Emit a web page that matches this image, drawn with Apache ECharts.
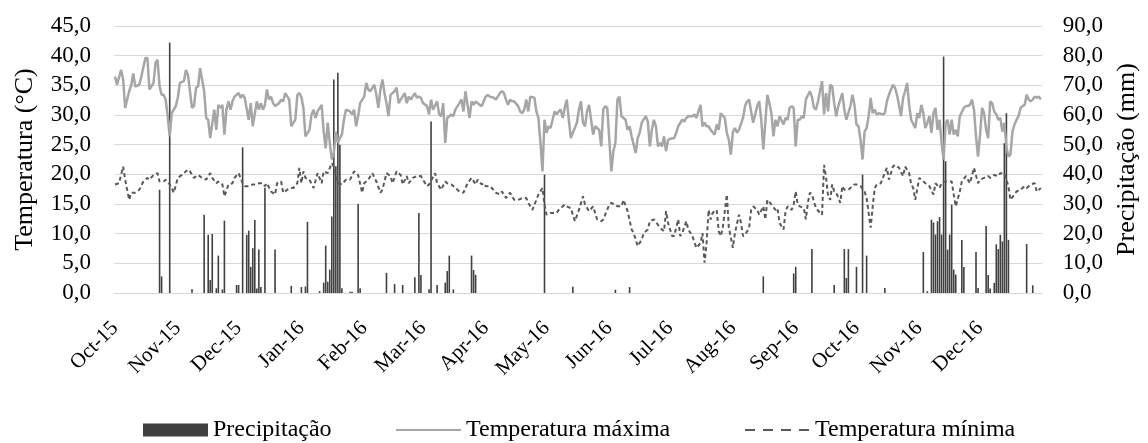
<!DOCTYPE html>
<html>
<head>
<meta charset="utf-8">
<script src="https://cdn.jsdelivr.net/npm/echarts@6/dist/echarts.min.js"></script>
<style>
  html, body { margin: 0; padding: 0; background: #fff; }
  #chart { width: 1148px; height: 443px; }
</style>
</head>
<body>
<div id="chart"></div>
<script>
// daily axis: day 0 = 2015-10-01, last day = 2016-12-31
const startDate = '2015-10-01';
const dayCount = 458;
const monthNames = ['Jan', 'Feb', 'Mar', 'Apr', 'May', 'Jun', 'Jul', 'Aug', 'Sep', 'Oct', 'Nov', 'Dec'];

// [day index, value]
const precipitacao = [
  [22, 34.8], [23, 5.6], [27, 84.4], [38, 1.3], [44, 26.4], [46, 19.6], [47, 4.4], [48, 19.9],
  [50, 1.6], [51, 12.6], [53, 1.2], [54, 24.4], [60, 2.7], [61, 2.7], [63, 49.1], [65, 19.6],
  [66, 21.0], [67, 8.8], [68, 15.1], [69, 24.6], [70, 1.5], [71, 14.7], [72, 2.0], [74, 35.5],
  [79, 14.7], [87, 2.4], [92, 2.0], [94, 2.2], [95, 24.0], [101, 0.6], [103, 3.5], [104, 16.0],
  [105, 3.8], [106, 7.9], [107, 25.8], [108, 72.0], [109, 42.7], [110, 74.2], [111, 50.0],
  [112, 1.6], [116, 0.4], [117, 0.4], [120, 30.0], [121, 1.6], [134, 6.8], [138, 3.0],
  [142, 2.7], [148, 5.3], [150, 27.0], [151, 6.1], [155, 1.3], [156, 57.8], [159, 2.7],
  [163, 3.5], [164, 7.4], [165, 12.6], [167, 1.2], [176, 12.6], [177, 7.8], [178, 6.1],
  [212, 39.9], [226, 2.1], [247, 1.1], [254, 2.0], [320, 5.6], [335, 6.6], [336, 8.8],
  [344, 14.8], [355, 2.7], [360, 14.8], [361, 5.1], [362, 14.8], [366, 8.8], [369, 39.9],
  [371, 12.6], [380, 1.7], [399, 13.8], [401, 0.6], [403, 24.7], [404, 23.8], [405, 19.7],
  [406, 24.2], [407, 25.6], [408, 19.7], [409, 79.7], [410, 44.4], [411, 14.6], [412, 19.7],
  [413, 29.8], [414, 7.9], [415, 6.2], [418, 17.9], [419, 8.8], [425, 13.8], [426, 1.7],
  [430, 22.6], [431, 6.1], [432, 1.5], [434, 3.4], [435, 16.4], [436, 14.8], [437, 19.6],
  [438, 17.4], [439, 50.5], [440, 60.6], [441, 17.9], [450, 16.5], [453, 2.6]
];

const tempMaxima = [
  [0, 36.5], [1, 35.1], [3, 37.6], [4, 36.0], [5, 31.2], [7, 34.0], [8, 35.0], [9, 37.0],
  [10, 34.8], [12, 35.1], [13, 36.5], [15, 39.6], [16, 39.6], [17, 34.3], [19, 35.4], [20, 38.8],
  [21, 39.3], [22, 34.8], [23, 33.4], [24, 33.4], [25, 32.6], [26, 29.8], [27, 26.4], [28, 30.3],
  [30, 31.5], [31, 32.9], [32, 35.4], [34, 35.7], [35, 37.6], [36, 36.8], [38, 31.2], [39, 31.5],
  [40, 34.6], [41, 34.8], [42, 37.9], [44, 34.0], [45, 29.5], [46, 29.2], [47, 26.1], [49, 30.9],
  [50, 27.5], [51, 31.7], [52, 31.2], [53, 31.7], [54, 26.7], [55, 30.9], [56, 32.3], [57, 30.9],
  [58, 32.3], [59, 33.1], [61, 33.7], [62, 32.9], [63, 33.4], [64, 32.9], [66, 29.2], [67, 32.0],
  [68, 28.1], [70, 32.3], [71, 30.9], [72, 32.0], [73, 30.9], [74, 31.7], [75, 34.3], [76, 32.6],
  [77, 33.1], [78, 32.0], [79, 31.5], [81, 32.0], [82, 32.6], [83, 32.3], [84, 33.7], [86, 32.6],
  [87, 28.1], [88, 28.7], [89, 29.2], [90, 33.4], [91, 33.7], [92, 33.0], [93, 31.2], [94, 26.4],
  [96, 27.5], [97, 30.1], [98, 30.9], [99, 29.5], [100, 30.6], [102, 31.7], [103, 27.2], [104, 24.4],
  [105, 28.7], [106, 25.3], [107, 22.5], [108, 23.6], [109, 27.2], [110, 25.3], [111, 26.1], [112, 26.7],
  [113, 29.2], [114, 30.9], [116, 30.6], [117, 30.1], [118, 30.9], [119, 28.1], [120, 29.8], [121, 32.0],
  [123, 33.1], [124, 35.4], [125, 34.3], [126, 34.0], [128, 35.1], [129, 33.4], [130, 31.2], [131, 34.3],
  [132, 36.0], [133, 33.7], [134, 32.0], [135, 29.8], [136, 33.4], [138, 34.0], [139, 34.6], [140, 32.0],
  [141, 32.6], [143, 33.7], [144, 32.0], [145, 33.1], [146, 32.6], [148, 33.7], [149, 32.9], [150, 33.1],
  [151, 32.9], [152, 32.0], [154, 31.5], [155, 30.1], [156, 32.6], [157, 30.9], [159, 32.3], [160, 30.1],
  [161, 29.8], [162, 32.0], [163, 25.3], [164, 29.5], [165, 29.8], [166, 30.1], [167, 29.8], [168, 30.9],
  [170, 32.0], [171, 32.6], [172, 30.6], [173, 34.0], [175, 29.5], [176, 32.3], [177, 31.7], [178, 32.3],
  [180, 31.7], [181, 31.5], [182, 32.3], [183, 33.1], [184, 33.4], [185, 33.1], [187, 32.9], [188, 32.6],
  [190, 33.7], [191, 34.0], [192, 33.7], [193, 32.6], [194, 31.7], [195, 32.6], [196, 32.3], [197, 32.3],
  [199, 31.5], [200, 30.6], [201, 30.3], [202, 30.9], [203, 32.6], [204, 30.6], [205, 33.1], [207, 32.9],
  [208, 30.6], [209, 29.5], [210, 25.3], [211, 20.5], [212, 29.2], [213, 27.0], [214, 28.1], [215, 27.8],
  [217, 30.6], [218, 30.1], [219, 30.6], [220, 30.9], [221, 29.5], [222, 31.2], [223, 32.6], [224, 29.2],
  [225, 26.1], [226, 27.0], [228, 28.7], [229, 30.9], [230, 32.3], [231, 28.7], [232, 28.1], [233, 30.6],
  [234, 31.7], [235, 29.2], [236, 26.7], [237, 28.1], [239, 27.5], [240, 24.7], [241, 30.9], [242, 31.5],
  [243, 31.2], [244, 25.8], [245, 20.5], [246, 23.9], [247, 25.3], [248, 32.6], [249, 33.1], [250, 29.8],
  [251, 29.5], [252, 29.2], [253, 27.5], [254, 28.1], [255, 26.4], [257, 23.6], [258, 26.1], [259, 27.0],
  [260, 28.7], [262, 29.8], [263, 28.9], [264, 24.7], [265, 27.5], [266, 29.2], [267, 28.1], [268, 24.7],
  [269, 25.3], [270, 24.7], [271, 26.4], [272, 23.9], [273, 25.8], [275, 26.1], [276, 26.1], [277, 27.0],
  [278, 28.1], [280, 29.2], [281, 28.9], [282, 29.5], [283, 29.8], [285, 29.8], [286, 30.1], [287, 29.5],
  [288, 30.6], [289, 31.7], [290, 28.1], [291, 28.7], [292, 28.1], [293, 28.1], [294, 27.5], [296, 26.7],
  [297, 28.4], [298, 27.5], [299, 30.3], [301, 29.5], [302, 27.0], [303, 25.8], [304, 23.3], [305, 27.2],
  [306, 27.8], [307, 27.0], [308, 27.5], [310, 29.5], [311, 31.5], [312, 32.3], [313, 32.6], [314, 30.6],
  [315, 28.7], [317, 31.5], [318, 32.3], [319, 29.2], [320, 24.2], [321, 28.7], [322, 33.4], [323, 32.0],
  [324, 30.3], [325, 26.4], [326, 29.2], [327, 28.1], [328, 29.8], [330, 28.4], [331, 29.5], [332, 29.2],
  [333, 31.2], [334, 31.5], [335, 31.2], [336, 24.7], [337, 29.2], [338, 29.2], [339, 29.8], [340, 29.5],
  [341, 32.6], [343, 34.0], [344, 33.1], [345, 31.2], [346, 30.9], [347, 32.3], [348, 34.0], [349, 35.7],
  [350, 30.1], [351, 33.7], [352, 30.6], [353, 35.1], [354, 34.8], [355, 32.0], [356, 29.8], [357, 31.5],
  [358, 32.6], [359, 33.7], [360, 30.9], [361, 29.2], [363, 31.5], [364, 33.4], [365, 31.7], [366, 28.4],
  [367, 28.1], [368, 25.8], [369, 22.5], [370, 27.2], [371, 27.8], [372, 29.8], [373, 32.9], [374, 30.3],
  [375, 30.9], [376, 30.1], [377, 30.3], [379, 30.1], [380, 30.3], [381, 32.3], [382, 33.4], [384, 35.1],
  [385, 34.6], [386, 33.4], [387, 31.7], [388, 29.8], [389, 32.9], [390, 34.0], [391, 35.4], [392, 31.7],
  [393, 29.2], [395, 27.8], [396, 30.3], [397, 29.5], [398, 31.7], [399, 30.3], [400, 27.8], [401, 28.7],
  [402, 29.8], [403, 27.0], [404, 30.3], [405, 31.2], [406, 27.5], [407, 29.2], [408, 25.3], [409, 22.5],
  [410, 28.7], [411, 29.2], [412, 26.7], [413, 29.2], [414, 26.7], [415, 27.5], [416, 26.4], [417, 29.8],
  [419, 31.2], [420, 31.5], [421, 31.5], [422, 31.7], [423, 32.6], [424, 30.9], [425, 26.4], [426, 23.0],
  [427, 26.7], [428, 31.2], [429, 30.3], [430, 27.5], [431, 26.1], [432, 32.3], [433, 32.0], [434, 30.6],
  [435, 30.1], [436, 29.2], [437, 29.5], [438, 27.2], [439, 28.7], [440, 24.7], [441, 23.0], [442, 23.3],
  [443, 27.2], [444, 28.4], [445, 29.2], [446, 29.8], [447, 31.2], [448, 31.5], [449, 31.7], [450, 33.4],
  [451, 32.6], [452, 32.3], [453, 32.6], [454, 33.1], [455, 32.9], [456, 33.1], [457, 32.6]
];

const tempMinima = [
  [0, 18.3], [2, 18.5], [4, 21.3], [5, 19.1], [7, 15.7], [8, 16.9], [10, 16.9], [12, 17.4],
  [14, 18.8], [16, 19.4], [17, 19.1], [19, 19.9], [21, 20.2], [22, 18.8], [24, 18.8], [25, 19.1],
  [27, 18.3], [28, 17.7], [29, 16.9], [31, 19.4], [33, 19.9], [36, 20.8], [37, 20.5], [39, 19.4],
  [41, 19.9], [43, 19.4], [45, 19.1], [47, 20.2], [48, 19.4], [50, 18.5], [51, 18.8], [53, 18.3],
  [54, 16.3], [56, 18.3], [58, 18.5], [59, 19.4], [61, 20.2], [63, 18.5], [64, 18.0], [66, 18.0],
  [68, 18.3], [69, 18.3], [71, 18.5], [73, 18.5], [74, 18.0], [75, 18.5], [77, 17.1], [79, 16.6],
  [80, 18.5], [82, 18.8], [83, 16.9], [85, 17.4], [87, 17.7], [88, 17.7], [90, 18.5], [91, 21.1],
  [92, 18.5], [93, 20.5], [94, 19.4], [96, 19.1], [98, 17.7], [100, 20.2], [102, 18.5], [103, 20.5],
  [105, 20.2], [107, 21.9], [108, 21.3], [110, 18.5], [112, 18.3], [114, 19.1], [116, 19.1], [118, 20.5],
  [120, 19.9], [122, 16.9], [123, 18.5], [125, 19.1], [127, 20.2], [129, 18.8], [131, 16.9], [132, 17.4],
  [134, 20.2], [136, 19.7], [137, 18.5], [139, 20.5], [141, 19.9], [142, 18.3], [144, 19.7], [145, 18.5],
  [147, 19.4], [149, 19.7], [151, 19.7], [152, 19.1], [154, 18.0], [155, 18.3], [158, 20.2], [159, 18.5],
  [161, 17.4], [163, 18.8], [164, 18.5], [166, 18.3], [168, 17.7], [170, 17.1], [172, 16.9], [174, 18.5],
  [176, 19.4], [178, 18.3], [179, 19.1], [181, 18.3], [182, 18.5], [183, 18.0], [185, 18.0], [186, 17.7],
  [188, 16.9], [190, 16.6], [191, 17.1], [193, 16.0], [195, 16.9], [197, 15.7], [199, 15.7], [201, 16.0],
  [203, 16.0], [204, 15.2], [206, 14.0], [208, 15.7], [209, 16.6], [211, 17.7], [212, 14.9], [213, 13.2],
  [215, 13.5], [218, 13.5], [219, 14.0], [222, 14.9], [223, 14.6], [225, 14.3], [226, 13.2], [227, 12.1],
  [229, 14.0], [231, 16.3], [232, 14.9], [234, 13.8], [236, 14.6], [238, 12.4], [240, 12.1], [241, 12.4],
  [244, 14.9], [245, 15.2], [248, 14.6], [250, 14.6], [251, 15.7], [253, 13.8], [255, 10.7], [256, 10.1],
  [258, 7.9], [260, 9.0], [261, 10.1], [263, 10.7], [264, 12.1], [266, 12.4], [268, 11.5], [269, 11.0],
  [271, 10.4], [272, 13.8], [273, 11.8], [275, 9.6], [276, 9.6], [278, 12.4], [279, 9.6], [280, 10.1],
  [282, 12.1], [283, 10.7], [285, 9.6], [287, 7.6], [289, 8.4], [290, 10.1], [291, 5.1], [292, 8.4],
  [293, 14.0], [294, 12.4], [295, 13.5], [297, 14.0], [298, 10.4], [299, 9.6], [300, 11.0], [301, 13.8],
  [302, 16.6], [303, 11.0], [305, 7.6], [306, 10.1], [308, 13.2], [309, 11.8], [310, 9.6], [311, 9.8],
  [313, 11.0], [314, 14.0], [315, 14.6], [317, 14.0], [318, 13.2], [320, 14.6], [321, 12.4], [322, 15.7],
  [324, 14.9], [326, 14.0], [327, 14.3], [328, 11.8], [330, 10.7], [331, 13.8], [332, 14.6], [334, 14.0],
  [335, 14.9], [336, 17.1], [337, 14.9], [338, 14.6], [340, 14.3], [341, 12.4], [342, 15.2], [343, 16.9],
  [344, 16.6], [346, 14.3], [348, 13.5], [349, 13.2], [350, 21.6], [351, 19.4], [352, 16.3], [353, 15.7],
  [354, 18.3], [355, 17.1], [356, 16.9], [358, 15.2], [359, 18.0], [360, 17.4], [362, 17.4], [364, 18.0],
  [365, 18.3], [366, 18.3], [368, 18.0], [370, 17.1], [371, 16.0], [372, 13.5], [373, 11.0], [374, 14.6],
  [375, 17.7], [376, 18.3], [378, 18.5], [379, 19.4], [381, 21.1], [382, 19.1], [384, 21.3], [385, 21.6],
  [387, 21.1], [389, 19.7], [390, 21.3], [392, 20.2], [393, 18.3], [394, 17.7], [395, 15.7], [397, 19.4],
  [398, 19.1], [400, 18.5], [402, 18.0], [404, 16.6], [405, 18.5], [407, 17.7], [408, 18.5], [409, 18.8],
  [411, 18.8], [413, 18.8], [414, 16.6], [415, 14.6], [417, 17.1], [418, 18.8], [420, 19.7], [422, 18.5],
  [424, 21.1], [426, 18.5], [427, 19.1], [429, 19.4], [431, 19.7], [432, 19.4], [434, 19.9], [436, 19.7],
  [437, 20.2], [439, 20.2], [441, 18.0], [442, 15.7], [444, 16.6], [445, 17.1], [447, 17.4], [449, 18.0],
  [450, 17.7], [452, 18.3], [454, 18.5], [455, 17.1], [457, 17.7]
];

const tempTicks = { min: 0, max: 45, interval: 5 };
const precTicks = { min: 0, max: 90, interval: 10 };

function buildDays() {
  const days = [];
  const d = new Date(startDate + 'T00:00:00Z');
  for (let i = 0; i < dayCount; i++) {
    days.push(d.toISOString().slice(0, 10));
    d.setUTCDate(d.getUTCDate() + 1);
  }
  return days;
}

const days = buildDays();
const serif = '"Liberation Serif"';
const ink = '#000';
const fmtComma = v => v.toFixed(1).replace('.', ',');

const chart = echarts.init(document.getElementById('chart'), null, { renderer: 'canvas' });

// one legend per item so each key sits where it does in the original
function legendAt(left, name, extra) {
  return Object.assign({
    top: 413,
    left: left,
    itemWidth: 65,
    itemHeight: 13,
    selectedMode: false,
    textStyle: { fontFamily: serif, fontSize: 24, color: ink },
    data: [name]
  }, extra || {});
}

chart.setOption({
  animation: false,
  textStyle: { fontFamily: serif, color: ink },
  grid: { left: 114, right: 106, top: 26, bottom: 150 },
  legend: [
    legendAt(138, { name: 'Precipitação', icon: 'rect' }),
    legendAt(390, { name: 'Temperatura máxima', itemStyle: { opacity: 0 } }),
    legendAt(739, { name: 'Temperatura mínima', itemStyle: { opacity: 0 } },
      { lineStyle: { type: [10, 8], width: 2 } })
  ],
  xAxis: {
    type: 'category',
    data: days,
    boundaryGap: true,
    axisLine: { lineStyle: { color: '#d9d9d9', width: 1 } },
    axisTick: { show: false },
    axisLabel: {
      interval: (idx, val) => val.slice(8) === '01',
      rotate: 45,
      margin: 32,
      fontFamily: serif,
      fontSize: 21,
      color: ink,
      formatter: val => monthNames[+val.slice(5, 7) - 1] + '-' + val.slice(2, 4)
    },
    splitLine: { show: false }
  },
  yAxis: [
    {
      type: 'value',
      min: tempTicks.min,
      max: tempTicks.max,
      interval: tempTicks.interval,
      name: 'Temperatura (°C)',
      nameLocation: 'middle',
      nameRotate: 90,
      nameGap: 76,
      nameTextStyle: { fontFamily: serif, fontSize: 26, color: ink },
      axisLine: { show: false },
      axisTick: { show: false },
      axisLabel: { fontFamily: serif, fontSize: 23, color: ink, margin: 23, formatter: fmtComma },
      splitLine: { lineStyle: { color: '#d9d9d9', width: 1 } }
    },
    {
      type: 'value',
      min: precTicks.min,
      max: precTicks.max,
      interval: precTicks.interval,
      name: 'Precipitação (mm)',
      nameLocation: 'middle',
      nameRotate: 90,
      nameGap: 71,
      nameTextStyle: { fontFamily: serif, fontSize: 26, color: ink },
      axisLine: { show: false },
      axisTick: { show: false },
      axisLabel: { fontFamily: serif, fontSize: 23, color: ink, margin: 21, formatter: fmtComma },
      splitLine: { show: false }
    }
  ],
  series: [
    {
      name: 'Precipitação',
      type: 'bar',
      yAxisIndex: 1,
      barWidth: 1.6,
      itemStyle: { color: '#404040' },
      data: precipitacao
    },
    {
      name: 'Temperatura máxima',
      type: 'line',
      yAxisIndex: 0,
      symbol: 'none',
      lineStyle: { color: '#a6a6a6', width: 2.5 },
      itemStyle: { color: '#a6a6a6' },
      data: tempMaxima
    },
    {
      name: 'Temperatura mínima',
      type: 'line',
      yAxisIndex: 0,
      symbol: 'none',
      lineStyle: { color: '#595959', width: 2, type: [4, 3] },
      itemStyle: { color: '#595959' },
      data: tempMinima
    }
  ]
});
</script>
</body>
</html>
